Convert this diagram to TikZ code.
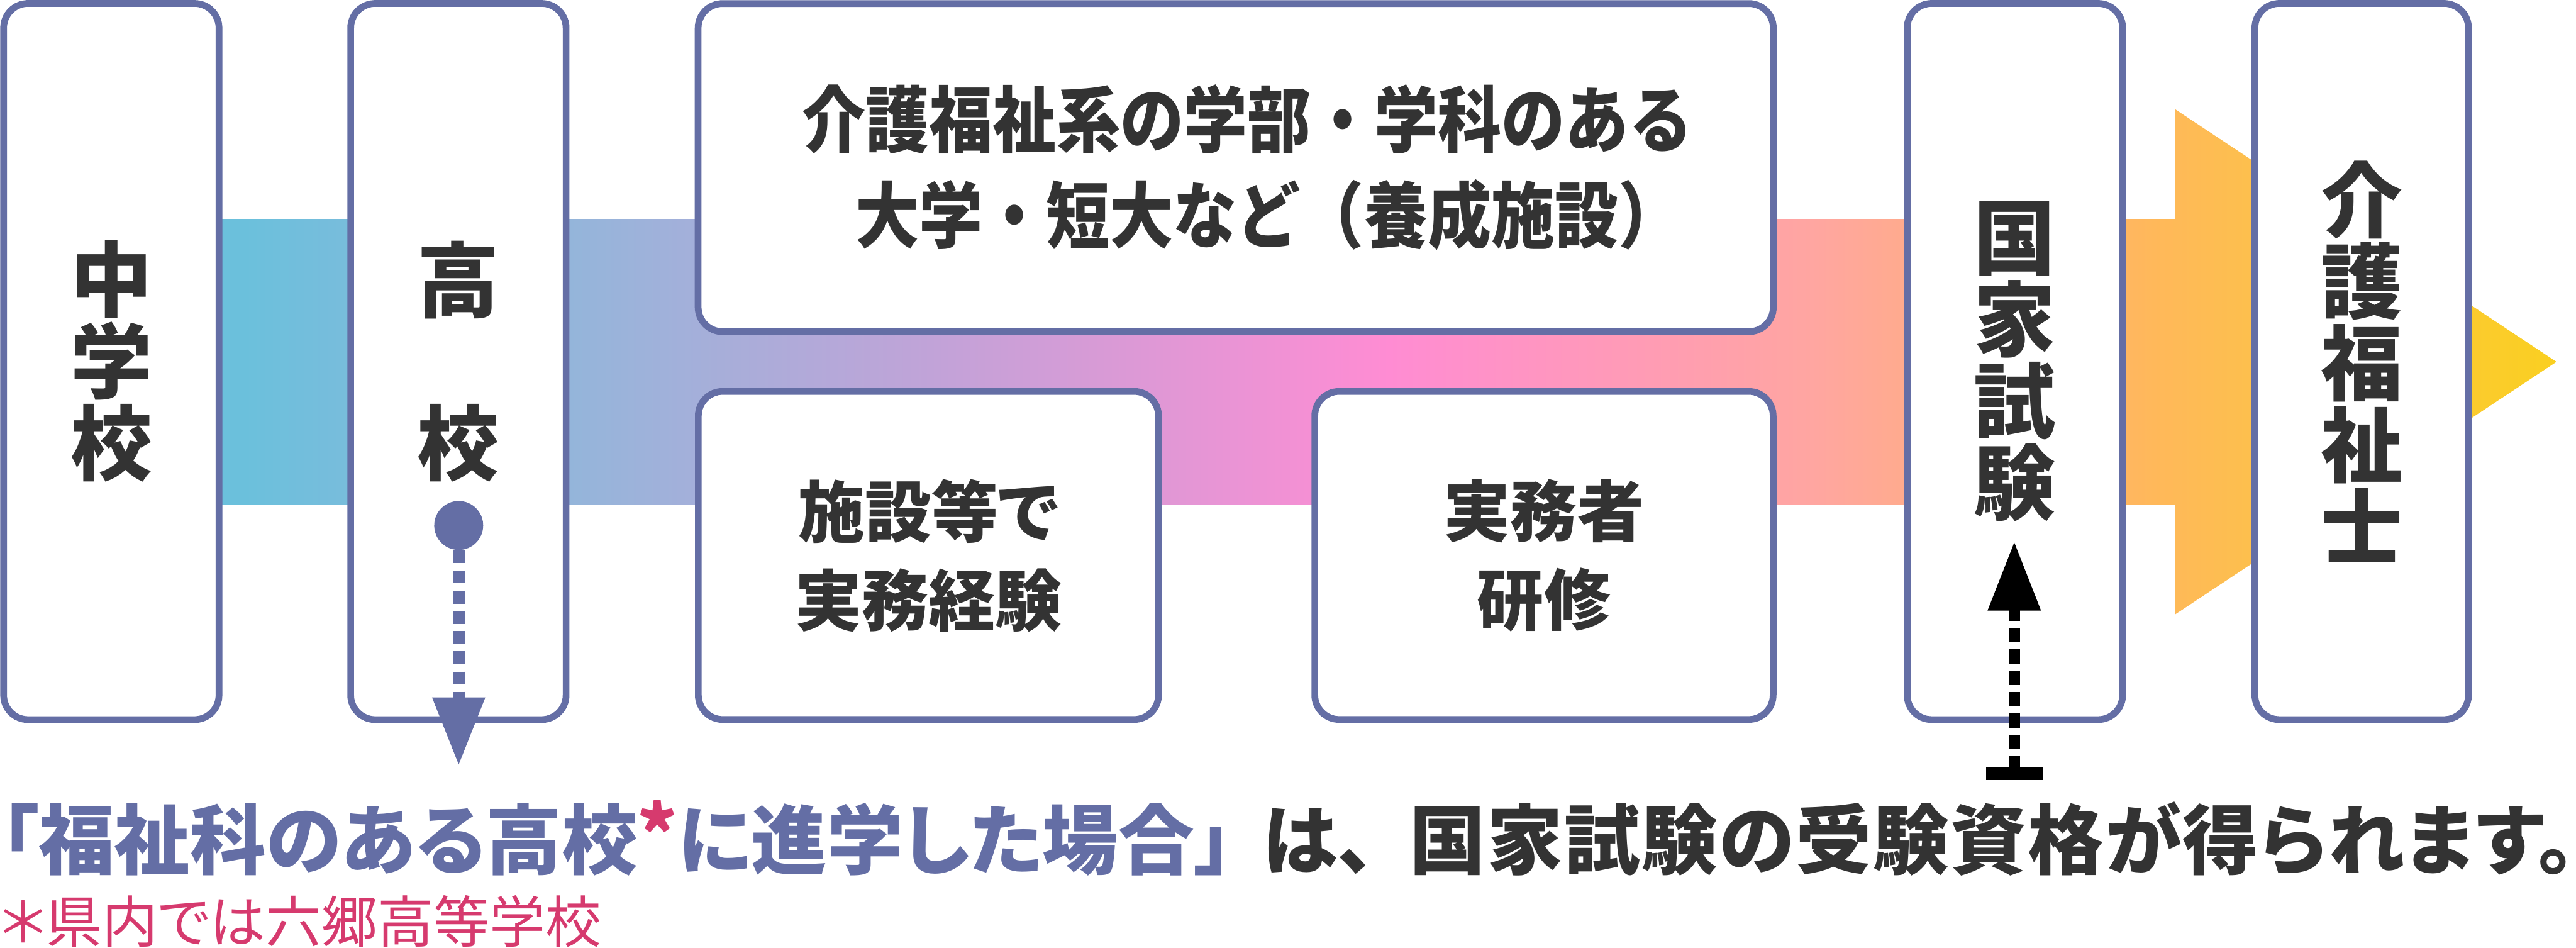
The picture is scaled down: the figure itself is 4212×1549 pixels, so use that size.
\documentclass[tikz,border=0pt]{standalone}
\usepackage{fontspec}
\setmainfont{Noto Sans CJK JP}
\newfontfamily\jpprop[RawFeature=+palt]{Noto Sans CJK JP}
\newfontfamily\jptail[RawFeature=+palt,LetterSpace=2]{Noto Sans CJK JP}
\newfontfamily\jpcond[FakeStretch=0.88]{Noto Sans CJK JP}
\usetikzlibrary{arrows.meta}
\definecolor{framecol}{RGB}{100,110,165}
\definecolor{darktext}{HTML}{333333}
\definecolor{notecol}{RGB}{214,58,110}
\definecolor{bandA}{HTML}{6BC1DC}
\definecolor{bandB}{HTML}{6BC0DC}
\definecolor{bandC}{HTML}{9BB3DA}
\definecolor{bandD}{HTML}{C1A3D8}
\definecolor{bandE}{HTML}{FF8CD3}
\definecolor{bandF}{HTML}{FFA6A0}
\definecolor{bandG}{HTML}{FFB85A}
\definecolor{bandH}{HTML}{FDBE50}
\definecolor{bandI}{HTML}{FAD020}

\begin{document}
\begin{tikzpicture}[x=0.01cm,y=0.01cm,
    stagebox/.style={draw=framecol,line width=0.11cm,fill=white,rounded corners=0.4cm,
      inner sep=0pt,text=darktext,align=center},
    tallbox/.style={stagebox,minimum width=3.52cm,minimum height=11.7cm,
      font=\bfseries\fontsize{38pt}{38pt}\selectfont},
    lowbox/.style={stagebox,minimum height=5.36cm,
      font=\jpprop\bfseries\fontsize{31pt}{41.3pt}\selectfont}]
  \useasboundingbox (0,0) rectangle (4212,1549);
  \begin{scope}
    \clip (182,1191) -- (3557,1191) -- (3557,1370) -- (4180,957.5) -- (3557,545)
      -- (3557,724) -- (182,724) -- cycle;
    \foreach \xa/\xb/\ca/\cb in {180/400/bandA/bandB,400/1020/bandB/bandC,
        1020/1520/bandC/bandD,1520/2270/bandD/bandE,2270/2970/bandE/bandF,
        2970/3520/bandF/bandG,3520/3650/bandG/bandH,3650/4190/bandH/bandI}
      \shade[left color=\ca,right color=\cb] (\xa,540) rectangle (\xb+2,1380);
  \end{scope}
  \node[tallbox] (middle) at (182,958) {中\\学\\校};
  \node[tallbox] (high) at (749.5,958) {高\\　\\校};
  \node[stagebox,minimum width=17.57cm,minimum height=5.36cm,
    font=\jpcond\bfseries\fontsize{33.6pt}{44.4pt}\selectfont] (univ) at (2020.5,1275)
    {\hspace*{0.38cm}介護福祉系の学部・学科のある\\\hspace*{1.08cm}大学・短大など（養成施設）};
  \node[lowbox,minimum width=7.52cm] (work) at (1518,641) {施設等で\\実務経験};
  \node[lowbox,minimum width=7.49cm] (train) at (2524.5,641) {実務者\\研修};
  \node[tallbox] (exam) at (3294.5,958) {国\\家\\試\\験};
  \node[tallbox,minimum width=3.49cm] (cert) at (3861.5,958) {介\\護\\福\\祉\\士};
  \node[circle,fill=framecol,minimum size=0.8cm,inner sep=0pt] (dot) at (750,690) {};
  \coordinate (hightip) at (750,297);
  \draw[framecol,line width=0.2cm,dash pattern=on 0.21cm off 0.12cm,
    -{Triangle[length=1.12cm,width=0.81cm]}] (dot) -- (hightip);
  \coordinate (barend) at (3293.5,274);
  \coordinate (examtip) at (3293.5,664);
  \draw[black,line width=0.18cm,dash pattern=on 0.24cm off 0.11cm,
    {Rectangle[length=0.2cm,width=0.92cm]}-{Triangle[length=1.13cm,width=0.82cm]}]
    (barend) -- (examtip);
  \node[anchor=west,inner sep=0pt,text=darktext,
    font=\jpprop\bfseries\fontsize{35.3pt}{35.3pt}\selectfont] (result) at (0,179)
    {\textcolor{framecol}{「福祉科のある高校}\textcolor{notecol}{\raisebox{0.08em}{*}}%
     \textcolor{framecol}{に進学した場合」}\hspace{0.4em}は、\hspace{0.45em}%
     {\jptail\bfseries 国家試験の受験資格が得られます。}};
  \node[anchor=west,inner sep=0pt,text=notecol,
    font=\jpprop\fontsize{26pt}{26pt}\selectfont] (note) at (0,43)
    {＊県内では六郷高等学校};
\end{tikzpicture}
\end{document}
